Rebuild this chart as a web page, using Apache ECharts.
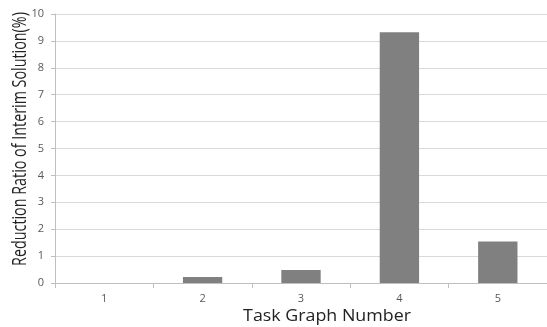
<!DOCTYPE html>
<html><head><meta charset="utf-8">
<script src="https://cdn.jsdelivr.net/npm/echarts@6/dist/echarts.min.js"></script>
<style>html,body{margin:0;padding:0;background:#fff}#c{width:547px;height:327px}</style>
</head><body><div id="c"></div>
<script>
var categories = ['1', '2', '3', '4', '5'];
var values = [0, 0.22, 0.48, 9.32, 1.54];
var yTicks = { min: 0, max: 10, interval: 1 };
var xTitle = 'Task Graph Number';
var yTitle = 'Reduction Ratio of Interim Solution(%)';

var chart = echarts.init(document.getElementById('c'), null, { renderer: 'canvas' });
chart.setOption({
  animation: false,
  backgroundColor: '#fff',
  textStyle: { fontFamily: 'Open Sans' },
  grid: { left: 55, right: -4, top: 14, bottom: 44, containLabel: false },
  xAxis: {
    type: 'category', data: categories,
    axisLine: { lineStyle: { color: '#bfbfbf' } },
    axisTick: { show: true, length: 5, lineStyle: { color: '#bfbfbf' } },
    axisLabel: { color: '#595959', fontSize: 11, margin: 10, fontFamily: 'Open Sans' }
  },
  yAxis: {
    type: 'value', min: yTicks.min, max: yTicks.max, interval: yTicks.interval,
    axisLine: { show: true, lineStyle: { color: '#bfbfbf' } },
    axisTick: { show: true, length: 4, lineStyle: { color: '#bfbfbf' } },
    axisLabel: { color: '#595959', fontSize: 11, margin: 11, fontFamily: 'Open Sans' },
    splitLine: { lineStyle: { color: '#d9d9d9' } }
  },
  series: [{
    type: 'bar', data: values, barWidth: '40%',
    itemStyle: { color: '#808080' }
  }],
  graphic: [
    { type: 'text', x: 327, y: 317, scaleX: 1.15,
      style: { text: xTitle, font: '15.5px "Open Sans"', fill: '#222', align: 'center', verticalAlign: 'middle' } },
    { type: 'text', rotation: Math.PI / 2, x: 20, y: 139, scaleX: 0.716,
      style: { text: yTitle, font: '20px "Open Sans"', fill: '#222', align: 'center', verticalAlign: 'middle' } }
  ]
});
</script></body></html>
